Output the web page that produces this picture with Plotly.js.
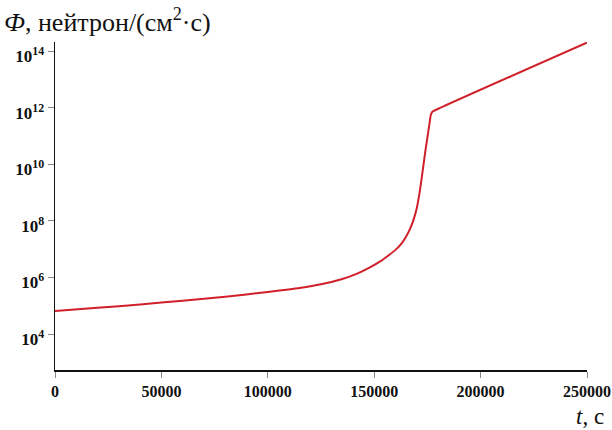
<!DOCTYPE html>
<html>
<head>
<meta charset="utf-8">
<script src="https://cdn.plot.ly/plotly-3.0.1.min.js"></script>
<style>
html,body{margin:0;padding:0;background:#fff;}
#chart{width:612px;height:430px;}
</style>
</head>
<body>
<div id="chart"></div>
<script>
// time, s
const timeS = [0, 20000, 40000, 60000, 80000, 100000, 115000, 125000, 135000, 142000, 148000, 153000, 157000, 160000, 163000, 165000, 167000, 168500, 170000, 171000, 172000, 173000, 174000, 175000, 176000, 176600, 177200, 178000, 250000];
// neutron flux, neutron/(cm^2 s)
const flux = [6.6e4, 8.5e4, 1.12e5, 1.51e5, 2.09e5, 3.09e5, 4.27e5, 5.75e5, 8.9e5, 1.38e6, 2.29e6, 3.8e6, 6.3e6, 9.5e6, 1.66e7, 2.82e7, 5.6e7, 1.12e8, 2.82e8, 7.1e8, 2.24e9, 7.9e9, 2.82e10, 8.9e10, 2.82e11, 5.6e11, 7.1e11, 7.8e11, 2.04e14];
const yTickVals = [1e4, 1e6, 1e8, 1e10, 1e12, 1e14];
const yTickText = ["10<sup>4</sup>", "10<sup>6</sup>", "10<sup>8</sup>", "10<sup>10</sup>", "10<sup>12</sup>", "10<sup>14</sup>"];
const xTickVals = [0, 50000, 100000, 150000, 200000, 250000];
const xTickText = ["0", "50000", "100000", "150000", "200000", "250000"];

const serif = "Liberation Serif";

Plotly.newPlot('chart', [{
  x: timeS, y: flux, type: 'scatter', mode: 'lines',
  line: {color: '#d0202a', width: 2, shape: 'spline', smoothing: 0.6},
  hoverinfo: 'skip'
}], {
  width: 612, height: 430,
  margin: {l: 55, r: 25, t: 42, b: 60},
  paper_bgcolor: '#fff', plot_bgcolor: '#fff',
  showlegend: false,
  font: {family: serif},
  xaxis: {
    range: [0, 250000], showgrid: false, zeroline: false,
    showline: true, linecolor: '#111', linewidth: 1.5,
    ticks: 'outside', ticklen: 6, tickcolor: '#888', tickwidth: 1,
    tickvals: xTickVals, ticktext: xTickText,
    tickfont: {family: serif, size: 16, color: '#111', weight: 'bold'}
  },
  yaxis: {
    type: 'log', range: [2.73, 14.33], showgrid: false, zeroline: false,
    showline: true, linecolor: '#111', linewidth: 1.5,
    ticks: 'outside', ticklen: 6, tickcolor: '#888', tickwidth: 1,
    tickvals: yTickVals, ticktext: yTickText,
    ticklabelshift: 5,
    tickfont: {family: serif, size: 17, color: '#111', weight: 'bold'}
  },
  annotations: [
    {xref: 'paper', yref: 'paper', x: -0.1, y: 1.0, xanchor: 'left', yanchor: 'bottom', yshift: 3,
     showarrow: false, text: '<i>Ф</i>, нейтрон/(см<sup>2</sup>·с)',
     font: {family: serif, size: 26, color: '#111'}},
    {xref: 'paper', yref: 'paper', x: 1.0, y: 0, xanchor: 'right', yanchor: 'top', xshift: 19, yshift: -32,
     showarrow: false, text: '<i>t</i>, с',
     font: {family: serif, size: 23, color: '#111'}}
  ]
}, {staticPlot: true});
</script>
</body>
</html>
